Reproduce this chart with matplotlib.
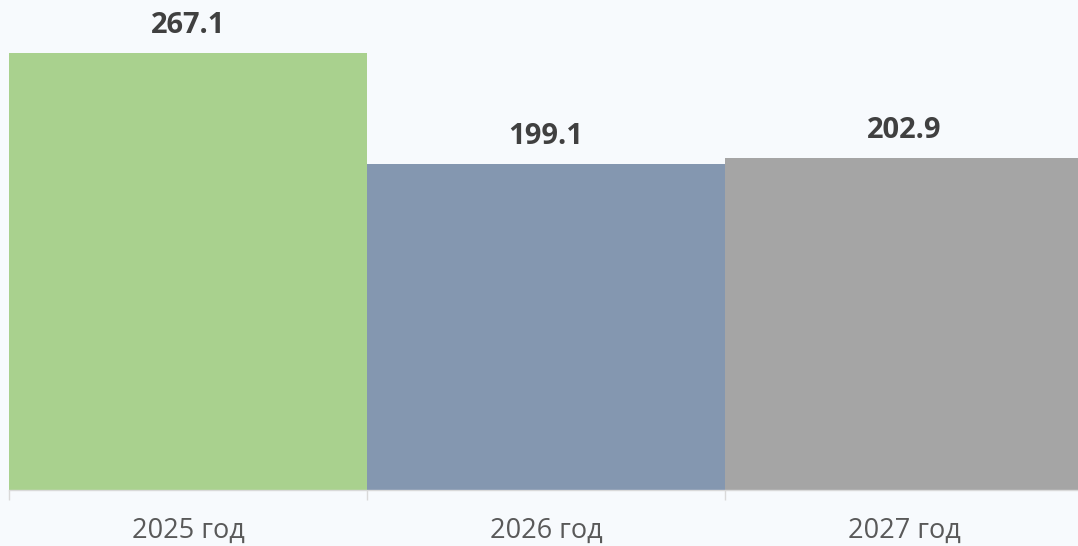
import matplotlib.pyplot as plt

# Данные
years = ['2025 год', '2026 год', '2027 год']
values = [267.1, 199.1, 202.9]
colors = ['#A9D18E', '#8497B0', '#A5A5A5']

bg = '#F7FAFD'
plt.rcParams['font.family'] = ['Open Sans', 'DejaVu Sans']

fig = plt.figure(figsize=(10.78, 5.46), dpi=100, facecolor=bg)
# оси чуть шире фигуры справа, как в оригинале
ax = fig.add_axes([9 / 1078, 56 / 546, 1074 / 1078, 490 / 546])
ax.set_facecolor(bg)

x = range(len(years))
bars = ax.bar(x, values, width=1.0, color=colors)

ax.set_xlim(-0.5, 2.5)
ax.set_ylim(0, 299.5)

# подписи значений
for b, v in zip(bars, values):
    ax.annotate(f'{v:.1f}', (b.get_x() + b.get_width() / 2, v),
                xytext=(0, 9.5), textcoords='offset points',
                ha='center', va='bottom', fontsize=21, fontweight='bold',
                color='#404040')

ax.set_xticks(list(x))
ax.set_xticklabels(years, fontsize=19.5, color='#595959')
ax.set_xticks([-0.5, 0.5, 1.5, 2.5], minor=True)
ax.tick_params(axis='x', which='major', length=0, pad=19.5)
ax.tick_params(axis='x', which='minor', length=7, color='#D9D9D9', width=1)
ax.set_yticks([])

for s in ['top', 'right', 'left']:
    ax.spines[s].set_visible(False)
ax.spines['bottom'].set_color('#D9D9D9')
ax.spines['bottom'].set_linewidth(1)

fig.savefig('out.png', dpi=100, facecolor=bg)
